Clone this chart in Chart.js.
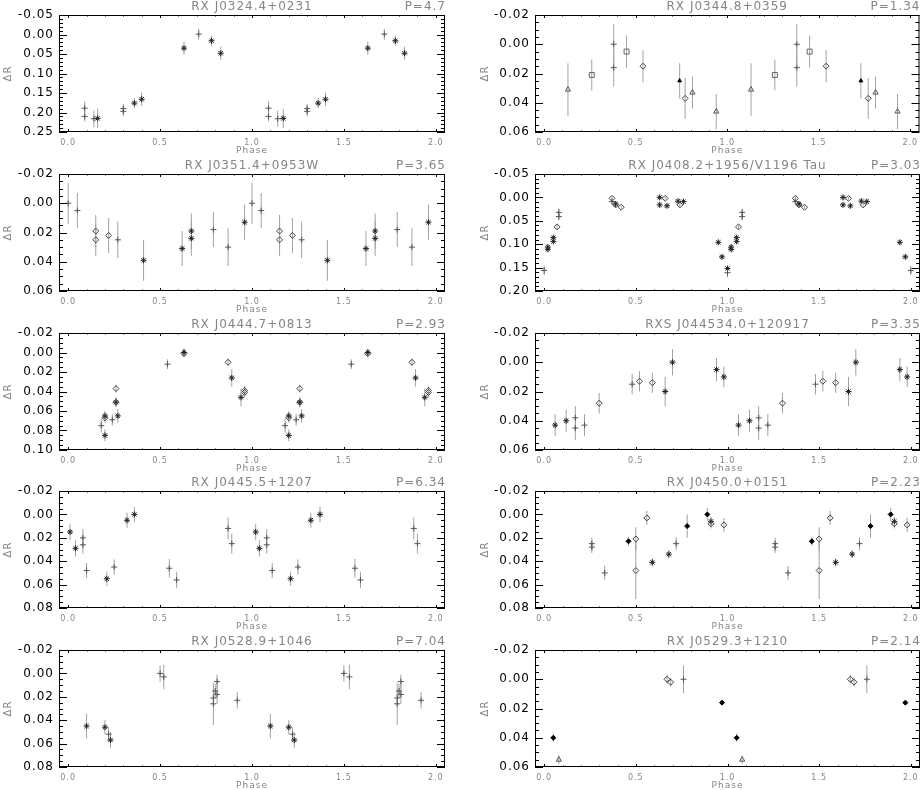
<!DOCTYPE html>
<html>
<head>
<meta charset="utf-8">
<script src="https://cdn.jsdelivr.net/npm/chart.js@4.4.1/dist/chart.umd.min.js"></script>
<style>
html, body { margin: 0; padding: 0; background: #fff; overflow: hidden; }
#wrap { position: relative; width: 924px; height: 790px; }
#wrap canvas { position: absolute; }
</style>
</head>
<body>
<div id="wrap"></div>
<script>
// ═══ data: phase-folded light curves ═══
// set codes: p = plus, s = asterisk, d = diamond, t = triangle, q = square,
//            F = filled diamond, T = filled triangle
const xTicks = [0.0, 0.5, 1.0, 1.5, 2.0];

const titles = ['RX J0324.4+0231', 'RX J0344.8+0359', 'RX J0351.4+0953W', 'RX J0408.2+1956/V1196 Tau',
    'RX J0444.7+0813', 'RXS J044534.0+120917', 'RX J0445.5+1207', 'RX J0450.0+0151',
    'RX J0528.9+1046', 'RX J0529.3+1210'];
const periods = ['4.7', '1.34', '3.65', '3.03', '2.93', '3.35', '6.34', '2.23', '7.04', '2.14'];

const p1YTicks = [-0.05, 0.00, 0.05, 0.10, 0.15, 0.20, 0.25];
const p1Phase = [0.09, 0.09, 0.14, 0.16, 0.30, 0.30, 0.36, 0.40, 0.63, 0.71, 0.78, 0.83,
    1.09, 1.09, 1.14, 1.17, 1.30, 1.30, 1.36, 1.40, 1.63, 1.72, 1.78, 1.83];
const p1Dr = [0.189, 0.210, 0.216, 0.215, 0.190, 0.197, 0.176, 0.166, 0.035, -0.001, 0.016, 0.048,
    0.189, 0.210, 0.216, 0.215, 0.190, 0.197, 0.176, 0.166, 0.035, -0.001, 0.016, 0.048];
const p1Err = [0.017, 0.013, 0.021, 0.025, 0.012, 0.012, 0.013, 0.017, 0.017, 0.014, 0.013, 0.017,
    0.017, 0.013, 0.021, 0.025, 0.012, 0.012, 0.013, 0.017, 0.017, 0.014, 0.013, 0.017];
const p1Set = ['p', 'p', 'p', 's', 'p', 'p', 's', 's', 's', 'p', 's', 's',
    'p', 'p', 'p', 's', 'p', 'p', 's', 's', 's', 'p', 's', 's'];

const p2YTicks = [-0.02, 0.00, 0.02, 0.04, 0.06];
const p2Phase = [0.13, 0.26, 0.38, 0.38, 0.45, 0.54, 0.74, 0.77, 0.81, 0.94,
    1.13, 1.26, 1.38, 1.38, 1.45, 1.54, 1.73, 1.77, 1.81, 1.93];
const p2Dr = [0.031, 0.021, 0.000, 0.016, 0.005, 0.015, 0.025, 0.037, 0.033, 0.046,
    0.031, 0.021, 0.000, 0.016, 0.005, 0.015, 0.025, 0.037, 0.033, 0.046];
const p2Err = [0.018, 0.0105, 0.014, 0.013, 0.011, 0.011, 0.012, 0.014, 0.011, 0.012,
    0.018, 0.0105, 0.014, 0.013, 0.011, 0.011, 0.012, 0.014, 0.011, 0.012];
const p2Set = ['t', 'q', 'p', 'p', 'q', 'd', 'T', 'd', 't', 't',
    't', 'q', 'p', 'p', 'q', 'd', 'T', 'd', 't', 't'];

const p3YTicks = [-0.02, 0.00, 0.02, 0.04, 0.06];
const p3Phase = [0.00, 0.05, 0.15, 0.15, 0.22, 0.27, 0.41, 0.62, 0.67, 0.67, 0.79, 0.87, 0.96,
    1.00, 1.05, 1.15, 1.15, 1.22, 1.27, 1.41, 1.62, 1.67, 1.67, 1.79, 1.87, 1.96];
const p3Dr = [0.000, 0.005, 0.019, 0.025, 0.022, 0.025, 0.039, 0.031, 0.019, 0.024, 0.018, 0.030, 0.013,
    0.000, 0.005, 0.019, 0.025, 0.022, 0.025, 0.039, 0.031, 0.019, 0.024, 0.018, 0.030, 0.013];
const p3Err = [0.014, 0.012, 0.011, 0.011, 0.012, 0.0125, 0.014, 0.012, 0.012, 0.012, 0.012, 0.013, 0.012,
    0.014, 0.012, 0.011, 0.011, 0.012, 0.0125, 0.014, 0.012, 0.012, 0.012, 0.012, 0.013, 0.012];
const p3Set = ['p', 'p', 'd', 'd', 'd', 'p', 's', 's', 's', 's', 'p', 'p', 's',
    'p', 'p', 'd', 'd', 'd', 'p', 's', 's', 's', 's', 'p', 'p', 's'];

const p4YTicks = [-0.05, 0.00, 0.05, 0.10, 0.15, 0.20];
const p4Phase = [0.00, 0.02, 0.02, 0.05, 0.05, 0.07, 0.08, 0.08, 0.37, 0.37, 0.39, 0.39, 0.42,
    0.63, 0.63, 0.66, 0.67, 0.73, 0.74, 0.76, 0.95, 0.97,
    1.00, 1.00, 1.02, 1.02, 1.05, 1.05, 1.06, 1.08, 1.08, 1.37, 1.37, 1.39, 1.39, 1.42,
    1.63, 1.63, 1.66, 1.67, 1.73, 1.74, 1.76, 1.94, 1.97, 2.00];
const p4Dr = [0.156, 0.106, 0.111, 0.086, 0.094, 0.063, 0.032, 0.041, 0.009, 0.002, 0.014, 0.016, 0.021,
    0.000, 0.016, 0.002, 0.018, 0.008, 0.016, 0.009, 0.096, 0.127,
    0.152, 0.161, 0.106, 0.111, 0.086, 0.094, 0.063, 0.032, 0.041, 0.009, 0.002, 0.014, 0.016, 0.021,
    0.000, 0.016, 0.002, 0.018, 0.008, 0.016, 0.009, 0.096, 0.127, 0.156];
const p4Err = [0.010, 0.005, 0.005, 0.005, 0.005, 0.004, 0.008, 0.008, 0.006, 0.004, 0.004, 0.004, 0.003,
    0.005, 0.005, 0.003, 0.005, 0.004, 0.004, 0.004, 0.004, 0.004,
    0.005, 0.010, 0.005, 0.005, 0.005, 0.005, 0.004, 0.008, 0.008, 0.006, 0.004, 0.004, 0.004, 0.003,
    0.005, 0.005, 0.003, 0.005, 0.004, 0.004, 0.004, 0.004, 0.004, 0.010];
const p4Set = ['p', 's', 's', 's', 's', 'd', 'p', 'p', 'p', 'd', 's', 'd', 'd',
    's', 's', 'd', 's', 's', 'd', 's', 's', 's',
    's', 'p', 's', 's', 's', 's', 'd', 'p', 'p', 'p', 'd', 's', 'd', 'd',
    's', 's', 'd', 's', 's', 'd', 's', 's', 's', 'p'];

const p5YTicks = [-0.02, 0.00, 0.02, 0.04, 0.06, 0.08, 0.10];
const p5Phase = [0.18, 0.20, 0.20, 0.20, 0.24, 0.26, 0.26, 0.26, 0.27, 0.54, 0.63, 0.63, 0.87, 0.89, 0.94, 0.96, 0.96,
    1.18, 1.20, 1.20, 1.20, 1.24, 1.26, 1.26, 1.26, 1.27, 1.54, 1.63, 1.63, 1.87, 1.89, 1.94, 1.96, 1.96];
const p5Dr = [0.075, 0.065, 0.067, 0.085, 0.069, 0.037, 0.051, 0.051, 0.065, 0.012, 0.001, 0.000, 0.010, 0.026, 0.046, 0.041, 0.039,
    0.075, 0.065, 0.067, 0.085, 0.069, 0.037, 0.051, 0.051, 0.065, 0.012, 0.001, 0.000, 0.010, 0.026, 0.046, 0.041, 0.039];
const p5Err = [0.007, 0.005, 0.005, 0.006, 0.006, 0.004, 0.005, 0.005, 0.007, 0.005, 0.004, 0.004, 0.004, 0.009, 0.009, 0.005, 0.005,
    0.007, 0.005, 0.005, 0.006, 0.006, 0.004, 0.005, 0.005, 0.007, 0.005, 0.004, 0.004, 0.004, 0.009, 0.009, 0.005, 0.005];
const p5Set = ['p', 's', 'd', 's', 'p', 'd', 's', 'd', 's', 'p', 'd', 's', 'd', 's', 's', 'd', 'd',
    'p', 's', 'd', 's', 'p', 'd', 's', 'd', 's', 'p', 'd', 's', 'd', 's', 's', 'd', 'd'];

const p6YTicks = [-0.02, 0.00, 0.02, 0.04, 0.06];
const p6Phase = [0.06, 0.12, 0.17, 0.17, 0.22, 0.30, 0.48, 0.52, 0.59, 0.66, 0.70, 0.94, 0.98,
    1.06, 1.12, 1.17, 1.17, 1.22, 1.30, 1.48, 1.52, 1.59, 1.66, 1.70, 1.94, 1.98];
const p6Dr = [0.043, 0.040, 0.038, 0.045, 0.043, 0.028, 0.015, 0.013, 0.014, 0.020, 0.000, 0.005, 0.010,
    0.043, 0.040, 0.038, 0.045, 0.043, 0.028, 0.015, 0.013, 0.014, 0.020, 0.000, 0.005, 0.010];
const p6Err = [0.0075, 0.0075, 0.008, 0.008, 0.0075, 0.007, 0.007, 0.007, 0.007, 0.010, 0.009, 0.008, 0.007,
    0.0075, 0.0075, 0.008, 0.008, 0.0075, 0.007, 0.007, 0.007, 0.007, 0.010, 0.009, 0.008, 0.007];
const p6Set = ['s', 's', 'p', 'p', 'p', 'd', 'p', 'd', 'd', 's', 's', 's', 's',
    's', 's', 'p', 'p', 'p', 'd', 'p', 'd', 'd', 's', 's', 's', 's'];

const p7YTicks = [-0.02, 0.00, 0.02, 0.04, 0.06, 0.08];
const p7Phase = [0.01, 0.04, 0.08, 0.08, 0.10, 0.21, 0.25, 0.32, 0.36, 0.55, 0.59, 0.87, 0.89,
    1.02, 1.04, 1.08, 1.08, 1.11, 1.21, 1.25, 1.32, 1.37, 1.56, 1.59, 1.88, 1.90];
const p7Dr = [0.015, 0.029, 0.020, 0.026, 0.048, 0.055, 0.045, 0.005, 0.000, 0.046, 0.056, 0.012, 0.025,
    0.015, 0.029, 0.020, 0.026, 0.048, 0.055, 0.045, 0.005, 0.000, 0.046, 0.056, 0.012, 0.025];
const p7Err = [0.007, 0.007, 0.0075, 0.0075, 0.0065, 0.006, 0.0065, 0.0065, 0.0065, 0.008, 0.007, 0.0095, 0.0085,
    0.007, 0.007, 0.0075, 0.0075, 0.0065, 0.006, 0.0065, 0.0065, 0.0065, 0.008, 0.007, 0.0095, 0.0085];
const p7Set = ['s', 's', 'p', 'p', 'p', 's', 'p', 's', 's', 'p', 'p', 'p', 'p',
    's', 's', 'p', 'p', 'p', 's', 'p', 's', 's', 'p', 'p', 'p', 'p'];

const p8YTicks = [-0.02, 0.00, 0.02, 0.04, 0.06, 0.08];
const p8Phase = [0.26, 0.26, 0.33, 0.46, 0.50, 0.50, 0.56, 0.59, 0.68, 0.72, 0.78, 0.89, 0.91, 0.91, 0.98,
    1.26, 1.26, 1.33, 1.46, 1.50, 1.50, 1.56, 1.59, 1.68, 1.72, 1.78, 1.89, 1.91, 1.91, 1.98];
const p8Dr = [0.025, 0.028, 0.050, 0.023, 0.021, 0.048, 0.003, 0.041, 0.034, 0.025, 0.010, 0.000, 0.006, 0.008, 0.009,
    0.025, 0.028, 0.050, 0.023, 0.021, 0.048, 0.003, 0.041, 0.034, 0.025, 0.010, 0.000, 0.006, 0.008, 0.009];
const p8Err = [0.005, 0.005, 0.006, 0.004, 0.010, 0.0245, 0.006, 0.0035, 0.0035, 0.0055, 0.010, 0.0055, 0.004, 0.004, 0.006,
    0.005, 0.005, 0.006, 0.004, 0.010, 0.0245, 0.006, 0.0035, 0.0035, 0.0055, 0.010, 0.0055, 0.004, 0.004, 0.006];
const p8Set = ['p', 'p', 'p', 'F', 'd', 'd', 'd', 's', 's', 'p', 'F', 'F', 's', 'd', 'd',
    'p', 'p', 'p', 'F', 'd', 'd', 'd', 's', 's', 'p', 'F', 'F', 's', 'd', 'd'];

const p9YTicks = [-0.02, 0.00, 0.02, 0.04, 0.06, 0.08];
const p9Phase = [0.10, 0.20, 0.22, 0.23, 0.50, 0.52, 0.79, 0.79, 0.80, 0.81, 0.81, 0.92,
    1.10, 1.20, 1.22, 1.23, 1.50, 1.53, 1.79, 1.79, 1.80, 1.81, 1.81, 1.92];
const p9Dr = [0.045, 0.046, 0.052, 0.057, 0.000, 0.003, 0.026, 0.021, 0.015, 0.018, 0.007, 0.023,
    0.045, 0.046, 0.052, 0.057, 0.000, 0.003, 0.026, 0.021, 0.015, 0.018, 0.007, 0.023];
const p9Err = [0.0105, 0.006, 0.006, 0.0068, 0.007, 0.0105, 0.018, 0.006, 0.006, 0.008, 0.006, 0.007,
    0.0105, 0.006, 0.006, 0.0068, 0.007, 0.0105, 0.018, 0.006, 0.006, 0.008, 0.006, 0.007];
const p9Set = ['s', 's', 'p', 's', 'p', 'p', 'p', 'p', 'p', 'p', 'p', 'p',
    's', 's', 'p', 's', 'p', 'p', 'p', 'p', 'p', 'p', 'p', 'p'];

const p10YTicks = [-0.02, 0.00, 0.02, 0.04, 0.06];
const p10Phase = [0.05, 0.08, 0.67, 0.69, 0.76, 0.97, 1.05, 1.08, 1.67, 1.69, 1.76, 1.97];
const p10Dr = [0.040, 0.055, 0.000, 0.002, 0.000, 0.016, 0.040, 0.055, 0.000, 0.002, 0.000, 0.016];
const p10Err = [0.003, 0.003, 0.003, 0.003, 0.0095, 0.0015, 0.003, 0.003, 0.003, 0.003, 0.0095, 0.0015];
const p10Set = ['F', 't', 'd', 'd', 'p', 'F', 'F', 't', 'd', 'd', 'p', 'F'];

const PANELS = [
    { phase: p1Phase, dr: p1Dr, err: p1Err, set: p1Set, yTicks: p1YTicks },
    { phase: p2Phase, dr: p2Dr, err: p2Err, set: p2Set, yTicks: p2YTicks },
    { phase: p3Phase, dr: p3Dr, err: p3Err, set: p3Set, yTicks: p3YTicks },
    { phase: p4Phase, dr: p4Dr, err: p4Err, set: p4Set, yTicks: p4YTicks },
    { phase: p5Phase, dr: p5Dr, err: p5Err, set: p5Set, yTicks: p5YTicks },
    { phase: p6Phase, dr: p6Dr, err: p6Err, set: p6Set, yTicks: p6YTicks },
    { phase: p7Phase, dr: p7Dr, err: p7Err, set: p7Set, yTicks: p7YTicks },
    { phase: p8Phase, dr: p8Dr, err: p8Err, set: p8Set, yTicks: p8YTicks },
    { phase: p9Phase, dr: p9Dr, err: p9Err, set: p9Set, yTicks: p9YTicks },
    { phase: p10Phase, dr: p10Dr, err: p10Err, set: p10Set, yTicks: p10YTicks },
];

// ═══ styles ═══
const FONT = "'DejaVu Sans', sans-serif";
const GREY_TXT = '#858585';
const SYM = {
    p: { style: 'cross', r: 3, line: '#555', fill: 'rgba(0,0,0,0)' },
    s: { style: 'star', r: 3, line: '#222', fill: 'rgba(0,0,0,0)' },
    d: { style: 'rectRot', r: 3, line: '#444', fill: 'rgba(0,0,0,0)' },
    t: { style: 'triangle', r: 3, line: '#555', fill: 'rgba(0,0,0,0)' },
    q: { style: 'rect', r: 3.5, line: '#666', fill: 'rgba(0,0,0,0)' },
    F: { style: 'rectRot', r: 2.5, line: '#000', fill: '#000' },
    T: { style: 'triangle', r: 2.2, line: '#000', fill: '#000' },
};

// error bars under the markers
const errorBars = {
    id: 'errorBars',
    beforeDatasetsDraw(chart) {
        const { ctx, chartArea: a, scales: { x, y } } = chart;
        ctx.save();
        ctx.beginPath();
        ctx.rect(a.left, a.top, a.width, a.height);
        ctx.clip();
        ctx.strokeStyle = '#a2a2a2';
        ctx.lineWidth = 1;
        chart.data.datasets.forEach(ds => {
            ds.data.forEach((pt, i) => {
                const e = ds.errs[i];
                const px = x.getPixelForValue(pt.x);
                ctx.beginPath();
                ctx.moveTo(px, y.getPixelForValue(pt.y - e));
                ctx.lineTo(px, y.getPixelForValue(pt.y + e));
                ctx.stroke();
            });
        });
        ctx.restore();
    }
};

// box with inward major/minor ticks on all four sides
const frameTicks = {
    id: 'frameTicks',
    afterDatasetsDraw(chart) {
        const { ctx, chartArea: a, scales: { x, y } } = chart;
        ctx.save();
        ctx.strokeStyle = '#000';
        ctx.lineWidth = 1;
        ctx.strokeRect(a.left + 0.5, a.top + 0.5, a.width - 1, a.height - 1);
        ctx.beginPath();

        const yt = y.ticks.map(t => t.value);
        const step = yt[1] - yt[0];
        const nMin = Math.abs(step - 0.05) < 1e-9 ? 5 : 4;
        for (let i = 0; i < yt.length; i++) {
            const n = i < yt.length - 1 ? nMin : 1;
            for (let k = 0; k < n; k++) {
                const py = Math.round(y.getPixelForValue(yt[i] + k * step / nMin)) + 0.5;
                const len = k === 0 ? 8 : 4;
                ctx.moveTo(a.left, py); ctx.lineTo(a.left + len, py);
                ctx.moveTo(a.right, py); ctx.lineTo(a.right - len, py);
            }
        }
        for (let k = 0; k <= 20; k++) {
            const px = Math.round(x.getPixelForValue(k / 10)) + 0.5;
            const len = k % 5 === 0 ? 3 : 1.5;
            ctx.moveTo(px, a.bottom); ctx.lineTo(px, a.bottom - len);
            ctx.moveTo(px, a.top); ctx.lineTo(px, a.top + len);
        }
        ctx.stroke();
        ctx.restore();
    }
};

// star name centred above, period flush right
const panelText = {
    id: 'panelText',
    beforeDraw(chart) {
        chart.ctx.letterSpacing = '1px';
    },
    afterDraw(chart, args, opts) {
        const { ctx, chartArea: a } = chart;
        ctx.save();
        ctx.letterSpacing = '1px';
        ctx.font = '12px ' + FONT;
        ctx.fillStyle = GREY_TXT;
        ctx.textBaseline = 'middle';
        ctx.textAlign = 'center';
        ctx.fillText(opts.title, (a.left + a.right) / 2, a.top - 8);
        ctx.textAlign = 'right';
        ctx.fillText('P=' + opts.period, a.right + 1, a.top - 8);
        ctx.restore();
    }
};

function makePanel(p, idx) {
    const col = idx % 2;
    const row = Math.floor(idx / 2);
    const canvas = document.createElement('canvas');
    canvas.width = 462;
    canvas.height = 159;
    canvas.style.left = (col * 462) + 'px';
    canvas.style.top = Math.round(row * 158.75) + 'px';
    document.getElementById('wrap').appendChild(canvas);

    const pts = p.phase.map((v, i) => ({ x: v, y: p.dr[i] }));
    const sty = p.set.map(s => SYM[s]);
    const yt = p.yTicks;

    return new Chart(canvas, {
        type: 'scatter',
        data: {
            datasets: [{
                data: pts,
                errs: p.err,
                pointStyle: sty.map(s => s.style),
                pointRadius: sty.map(s => s.r),
                pointHoverRadius: sty.map(s => s.r),
                pointBorderColor: sty.map(s => s.line),
                pointBackgroundColor: sty.map(s => s.fill),
                pointBorderWidth: 1,
            }]
        },
        options: {
            responsive: false, maintainAspectRatio: false, animation: false, events: [],
            layout: { padding: col ? { left: 15, right: 1, top: 15, bottom: 0 } : { left: 0, right: 17, top: 15, bottom: 0 } },
            plugins: {
                legend: { display: false },
                tooltip: { enabled: false },
                panelText: { title: titles[idx], period: periods[idx] },
            },
            scales: {
                x: {
                    type: 'linear', min: -0.05, max: 2.05,
                    afterBuildTicks: s => { s.ticks = xTicks.map(v => ({ value: v })); },
                    afterFit: s => { s.height = 27; },
                    grid: { display: false, drawTicks: false },
                    border: { display: false },
                    ticks: { color: GREY_TXT, font: { family: FONT, size: 8 }, padding: 6, maxRotation: 0, autoSkip: false, callback: v => v.toFixed(1) },
                    title: { display: true, text: 'Phase', color: GREY_TXT, font: { family: FONT, size: 9 }, padding: { top: 0, bottom: 3 } },
                },
                y: {
                    type: 'linear', reverse: true, min: yt[0], max: yt[yt.length - 1],
                    afterBuildTicks: s => { s.ticks = yt.map(v => ({ value: v })); },
                    afterFit: s => { s.width = col ? 58 : 59; },
                    grid: { display: false, drawTicks: false },
                    border: { display: false },
                    ticks: { color: '#000', font: { family: FONT, size: 12 }, padding: 5, autoSkip: false, callback: v => v.toFixed(2) },
                    title: { display: true, text: 'ΔR', color: GREY_TXT, font: { family: FONT, size: 10 }, padding: { top: 2, bottom: 0 } },
                }
            }
        },
        plugins: [errorBars, frameTicks, panelText]
    });
}

PANELS.forEach(makePanel);
</script>
</body>
</html>
